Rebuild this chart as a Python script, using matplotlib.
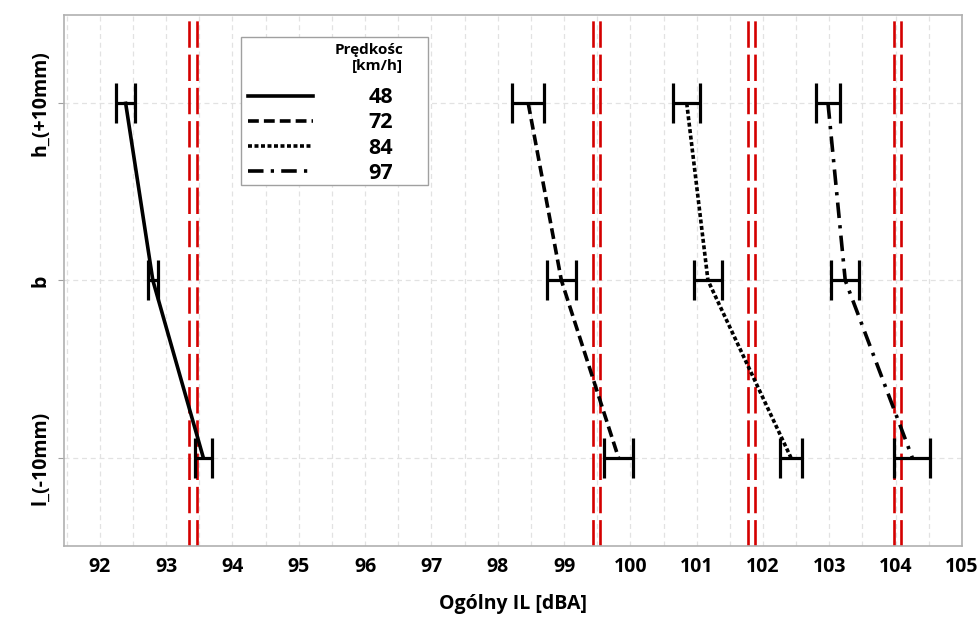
import matplotlib
matplotlib.use("Agg")
import matplotlib.pyplot as plt
from matplotlib.patches import Rectangle
import numpy as np

plt.rcParams['font.family'] = ['Open Sans', 'DejaVu Sans']

# categories (top to bottom) and plotted positions
categories = ["h_(+10mm)", "b", "l_(-10mm)"]
speeds = ["48", "72", "84", "97"]

# mean overall IL per speed, for h, b, l
means = {
    "48": [92.39, 92.80, 93.56],
    "72": [98.46, 98.96, 99.82],
    "84": [100.85, 101.17, 102.42],
    "97": [102.98, 103.24, 104.25],
}
# half-width of interval bars
halfw = {
    "48": [0.14, 0.08, 0.13],
    "72": [0.24, 0.22, 0.22],
    "84": [0.20, 0.21, 0.17],
    "97": [0.18, 0.21, 0.27],
}
# red reference lines (pairs per speed)
ref_lines = [93.34, 93.46, 99.43, 99.54, 101.77, 101.88, 103.97, 104.08]

styles = {
    "48": "-",
    "72": (0, (3.0, 1.4)),
    "84": (0, (1.1, 0.7)),
    "97": (0, (4.3, 2.0, 0.9, 2.0)),
}

fig = plt.figure(figsize=(9.8, 6.17), dpi=100)
ax = fig.add_axes([0.0653, 0.115, 0.9163, 0.861])

ypos = np.array([2, 1, 0])

for x in ref_lines:
    ax.axvline(x, color="#d40000", lw=1.9, linestyle=(0, (10, 2.6)), zorder=2)

handles = []
for s in speeds:
    ax.errorbar(means[s], ypos, xerr=halfw[s], fmt="none", ecolor="black",
                elinewidth=2.3, capsize=14.5, capthick=2.3, zorder=3)
    ln, = ax.plot(means[s], ypos, color="black", lw=2.6, linestyle=styles[s],
                  zorder=4, label=s)
    handles.append(ln)

ax.set_xlim(91.46, 105)
ax.set_ylim(-0.5, 2.5)
ax.set_xticks(np.arange(92, 106, 1))
ax.set_xticks(np.arange(91.5, 105.5, 0.5), minor=True)
ax.set_yticks(ypos)
ax.set_yticklabels(categories, rotation=90, va="center", fontsize=14,
                   fontweight="bold")
for lbl in ax.get_xticklabels():
    lbl.set_fontsize(14)
    lbl.set_fontweight("bold")

ax.grid(True, which="both", axis="x", color="#e2e2e2", linestyle=(0, (4, 3)), lw=0.9)
ax.grid(True, which="major", axis="y", color="#e2e2e2", linestyle=(0, (4, 3)), lw=0.9)
ax.set_axisbelow(True)

ax.tick_params(axis="x", which="both", length=0, pad=8)
ax.tick_params(axis="y", which="major", length=4, color="#a0a0a0", pad=6)
ax.tick_params(axis="y", which="minor", length=0)
for sp in ax.spines.values():
    sp.set_color("#b0b0b0")
    sp.set_linewidth(1.2)

ax.set_xlabel("Ogólny IL [dBA]", fontsize=14, fontweight="bold", labelpad=12)

# legend box drawn separately (wider on the right, like the original)
ax.add_patch(Rectangle((0.197, 0.680), 0.208, 0.2786, transform=ax.transAxes,
                       facecolor="white", edgecolor="#a0a0a0", lw=1.0, zorder=5))
ax.text(0.3775, 0.919, "Prędkośc\n[km/h]", transform=ax.transAxes, ha="right",
        va="center", multialignment="right", fontsize=11, fontweight="bold",
        linespacing=1.15, zorder=6)

leg = ax.legend(handles=handles, labels=speeds,
                loc="upper left", bbox_to_anchor=(0.205, 0.864),
                handlelength=3.0, handletextpad=2.6, labelspacing=0.2,
                fontsize=15.5, frameon=False,
                borderpad=0, borderaxespad=0)
leg.set_zorder(6)
for t in leg.get_texts():
    t.set_fontweight("bold")

fig.savefig("out.png", dpi=100)
